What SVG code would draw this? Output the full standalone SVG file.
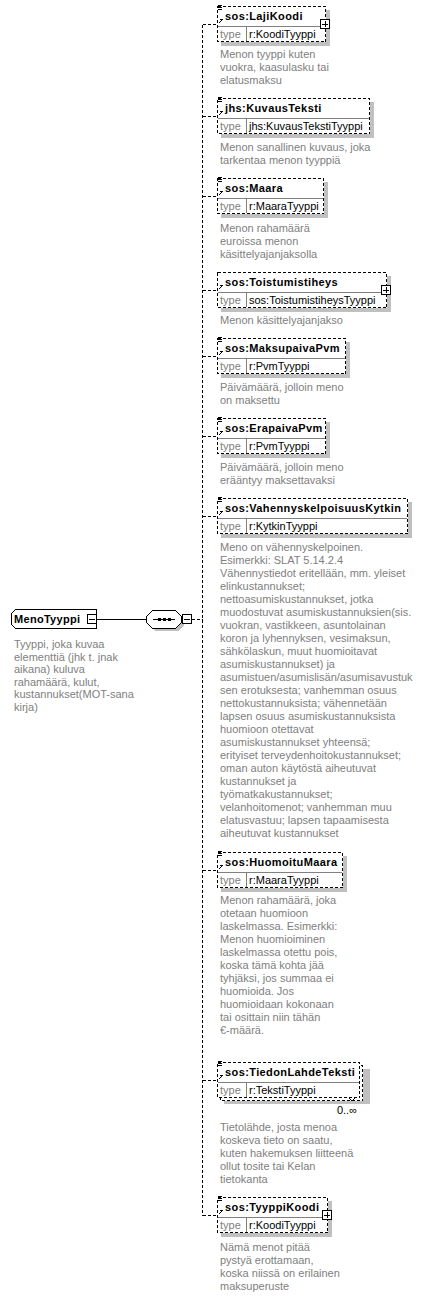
<svg xmlns="http://www.w3.org/2000/svg" width="421" height="1296" viewBox="0 0 421 1296">
<style>
text{font-family:"Liberation Sans",Arial,sans-serif;font-size:11px}
.nm{font-weight:bold;fill:#000;letter-spacing:0.4px}
.tl{fill:#808080}
.tv{fill:#000}
.ds{fill:#808080}
.box{fill:#fff;stroke:#000;stroke-width:1;stroke-dasharray:3,2}
.sh{fill:#c0c0c0}
.dv{stroke:#808080;stroke-width:1}
.pm{fill:#fff;stroke:#000;stroke-width:1}
.pl{stroke:#000;stroke-width:1}
.ic{stroke:#000;stroke-width:1;fill:none}
.con{stroke:#000;stroke-width:1;fill:none;stroke-dasharray:3,2}
.sol{stroke:#000;stroke-width:1;fill:none}
rect,line,polygon{shape-rendering:crispEdges}
</style>
<defs>
<g id="eq"><line class="ic" x1="218" y1="-0.5" x2="222" y2="-0.5"/><line class="ic" x1="218" y1="1.5" x2="222" y2="1.5"/><line class="ic" x1="218" y1="3.5" x2="222" y2="3.5"/></g>
<g id="ar"><line class="ic" x1="218.5" y1="17.5" x2="221" y2="15"/><polygon points="223,12.5 219.5,13.5 222,16" fill="#000"/></g>
</defs>
<g id="connectors">
<line class="sol" x1="97" y1="619.5" x2="146" y2="619.5"/>
<line class="con" x1="192" y1="619.5" x2="202.5" y2="619.5"/>
<line class="con" x1="202.5" y1="24.5" x2="202.5" y2="1215.5"/>
<line class="con" x1="202.5" y1="24.5" x2="217" y2="24.5"/>
<line class="con" x1="202.5" y1="116.5" x2="217" y2="116.5"/>
<line class="con" x1="202.5" y1="196.5" x2="217" y2="196.5"/>
<line class="con" x1="202.5" y1="290.5" x2="217" y2="290.5"/>
<line class="con" x1="202.5" y1="356.5" x2="217" y2="356.5"/>
<line class="con" x1="202.5" y1="436.5" x2="217" y2="436.5"/>
<line class="con" x1="202.5" y1="516.5" x2="217" y2="516.5"/>
<line class="con" x1="202.5" y1="870.5" x2="217" y2="870.5"/>
<line class="con" x1="202.5" y1="1080.5" x2="217" y2="1080.5"/>
<line class="con" x1="202.5" y1="1215.5" x2="217" y2="1215.5"/>
</g>
<g id="MenoTyyppi">
<polygon points="15.5,609.5 96.5,609.5 96.5,628.5 15.5,628.5 11.5,624.5 11.5,613.5" fill="#fff" stroke="#000" stroke-width="1"/>
<text class="nm" x="14" y="623" style="letter-spacing:0.3px">MenoTyyppi</text>
<rect class="pm" x="87.5" y="614.5" width="9" height="9"/>
<line class="pl" x1="89" y1="619" x2="95" y2="619"/>
<text class="ds" x="14" y="648">Tyyppi, joka kuvaa<tspan x="14" dy="12.5">elementtiä (jhk t. jnak</tspan><tspan x="14" dy="12.5">aikana) kuluva</tspan><tspan x="14" dy="12.5">rahamäärä, kulut,</tspan><tspan x="14" dy="12.5">kustannukset(MOT-sana</tspan><tspan x="14" dy="12.5">kirja)</tspan></text>
</g>
<g id="sequence">
<polygon points="155,613 178,613 184,619 184,625 178,631 155,631 149,625 149,619" class="sh"/>
<polygon points="152.5,610.5 175.5,610.5 181.5,616.5 181.5,622.5 175.5,628.5 152.5,628.5 146.5,622.5 146.5,616.5" fill="#fff" stroke="#000" stroke-width="1"/>
<line class="sol" x1="153" y1="619.5" x2="175" y2="619.5"/>
<rect x="158" y="618" width="3" height="3" fill="#000"/>
<rect x="163" y="618" width="3" height="3" fill="#000"/>
<rect x="168" y="618" width="3" height="3" fill="#000"/>
<rect class="pm" x="182.5" y="614.5" width="9" height="9"/>
<line class="pl" x1="184" y1="619" x2="190" y2="619"/>
</g>
<g id="LajiKoodi">
<rect class="sh" x="221" y="10" width="109" height="36"/>
<rect class="box" x="217.5" y="6.5" width="108" height="35"/>
<line class="dv" x1="218" y1="26.5" x2="325" y2="26.5"/>
<line class="dv" x1="246.5" y1="27" x2="246.5" y2="41"/>
<text class="nm" x="225" y="20">sos:LajiKoodi</text>
<text class="tl" x="220" y="37.5">type</text>
<text class="tv" x="249" y="37.5">r:KoodiTyyppi</text>
<use href="#eq" y="6"/><use href="#ar" y="6"/>
<rect class="pm" x="320.5" y="19.5" width="9" height="9"/>
<line class="pl" x1="322" y1="24" x2="328" y2="24"/><line class="pl" x1="325" y1="21" x2="325" y2="27"/>
<text class="ds" x="220" y="58">Menon tyyppi kuten<tspan x="220" dy="13">vuokra, kaasulasku tai</tspan><tspan x="220" dy="13">elatusmaksu</tspan></text>
</g>
<g id="KuvausTeksti">
<rect class="sh" x="221" y="102" width="153" height="36"/>
<rect class="box" x="217.5" y="98.5" width="152" height="35"/>
<line class="dv" x1="218" y1="118.5" x2="369" y2="118.5"/>
<line class="dv" x1="246.5" y1="119" x2="246.5" y2="133"/>
<text class="nm" x="225" y="112">jhs:KuvausTeksti</text>
<text class="tl" x="220" y="129.5">type</text>
<text class="tv" x="249" y="129.5">jhs:KuvausTekstiTyyppi</text>
<use href="#eq" y="98"/><use href="#ar" y="98"/>
<text class="ds" x="220" y="151">Menon sanallinen kuvaus, joka<tspan x="220" dy="13">tarkentaa menon tyyppiä</tspan></text>
</g>
<g id="Maara">
<rect class="sh" x="221" y="182" width="107" height="36"/>
<rect class="box" x="217.5" y="178.5" width="106" height="35"/>
<line class="dv" x1="218" y1="198.5" x2="323" y2="198.5"/>
<line class="dv" x1="246.5" y1="199" x2="246.5" y2="213"/>
<text class="nm" x="225" y="192">sos:Maara</text>
<text class="tl" x="220" y="209.5">type</text>
<text class="tv" x="249" y="209.5">r:MaaraTyyppi</text>
<use href="#eq" y="178"/><use href="#ar" y="178"/>
<text class="ds" x="220" y="232">Menon rahamäärä<tspan x="220" dy="13">euroissa menon</tspan><tspan x="220" dy="13">käsittelyajanjaksolla</tspan></text>
</g>
<g id="Toistumistiheys">
<rect class="sh" x="221" y="276" width="170" height="36"/>
<rect class="box" x="217.5" y="272.5" width="169" height="35"/>
<line class="dv" x1="218" y1="292.5" x2="386" y2="292.5"/>
<line class="dv" x1="246.5" y1="293" x2="246.5" y2="307"/>
<text class="nm" x="225" y="286">sos:Toistumistiheys</text>
<text class="tl" x="220" y="303.5">type</text>
<text class="tv" x="249" y="303.5">sos:ToistumistiheysTyyppi</text>
<use href="#ar" y="272"/>
<rect class="pm" x="381.5" y="285.5" width="9" height="9"/>
<line class="pl" x1="383" y1="290" x2="389" y2="290"/><line class="pl" x1="386" y1="287" x2="386" y2="293"/>
<text class="ds" x="220" y="324">Menon käsittelyajanjakso</text>
</g>
<g id="MaksupaivaPvm">
<rect class="sh" x="221" y="342" width="129" height="36"/>
<rect class="box" x="217.5" y="338.5" width="128" height="35"/>
<line class="dv" x1="218" y1="358.5" x2="345" y2="358.5"/>
<line class="dv" x1="246.5" y1="359" x2="246.5" y2="373"/>
<text class="nm" x="225" y="352">sos:MaksupaivaPvm</text>
<text class="tl" x="220" y="369.5">type</text>
<text class="tv" x="249" y="369.5">r:PvmTyyppi</text>
<use href="#eq" y="338"/><use href="#ar" y="338"/>
<text class="ds" x="220" y="391">Päivämäärä, jolloin meno<tspan x="220" dy="13">on maksettu</tspan></text>
</g>
<g id="ErapaivaPvm">
<rect class="sh" x="221" y="422" width="109" height="36"/>
<rect class="box" x="217.5" y="418.5" width="108" height="35"/>
<line class="dv" x1="218" y1="438.5" x2="325" y2="438.5"/>
<line class="dv" x1="246.5" y1="439" x2="246.5" y2="453"/>
<text class="nm" x="225" y="432">sos:ErapaivaPvm</text>
<text class="tl" x="220" y="449.5">type</text>
<text class="tv" x="249" y="449.5">r:PvmTyyppi</text>
<use href="#eq" y="418"/><use href="#ar" y="418"/>
<text class="ds" x="220" y="471">Päivämäärä, jolloin meno<tspan x="220" dy="13">erääntyy maksettavaksi</tspan></text>
</g>
<g id="VahennyskelpoisuusKytkin">
<rect class="sh" x="221" y="502" width="191" height="36"/>
<rect class="box" x="217.5" y="498.5" width="190" height="35"/>
<line class="dv" x1="218" y1="518.5" x2="407" y2="518.5"/>
<line class="dv" x1="246.5" y1="519" x2="246.5" y2="533"/>
<text class="nm" x="225" y="512">sos:VahennyskelpoisuusKytkin</text>
<text class="tl" x="220" y="529.5">type</text>
<text class="tv" x="249" y="529.5">r:KytkinTyyppi</text>
<use href="#eq" y="498"/><use href="#ar" y="498"/>
<text class="ds" x="220" y="551">Meno on vähennyskelpoinen.<tspan x="220" dy="13">Esimerkki: SLAT 5.14.2.4</tspan><tspan x="220" dy="13">Vähennystiedot eritellään, mm. yleiset</tspan><tspan x="220" dy="13">elinkustannukset;</tspan><tspan x="220" dy="13">nettoasumiskustannukset, jotka</tspan><tspan x="220" dy="13">muodostuvat asumiskustannuksien(sis.</tspan><tspan x="220" dy="13">vuokran, vastikkeen, asuntolainan</tspan><tspan x="220" dy="13">koron ja lyhennyksen, vesimaksun,</tspan><tspan x="220" dy="13">sähkölaskun, muut huomioitavat</tspan><tspan x="220" dy="13">asumiskustannukset) ja</tspan><tspan x="220" dy="13">asumistuen/asumislisän/asumisavustuk</tspan><tspan x="220" dy="13">sen erotuksesta; vanhemman osuus</tspan><tspan x="220" dy="13">nettokustannuksista; vähennetään</tspan><tspan x="220" dy="13">lapsen osuus asumiskustannuksista</tspan><tspan x="220" dy="13">huomioon otettavat</tspan><tspan x="220" dy="13">asumiskustannukset yhteensä;</tspan><tspan x="220" dy="13">erityiset terveydenhoitokustannukset;</tspan><tspan x="220" dy="13">oman auton käytöstä aiheutuvat</tspan><tspan x="220" dy="13">kustannukset ja</tspan><tspan x="220" dy="13">työmatkakustannukset;</tspan><tspan x="220" dy="13">velanhoitomenot; vanhemman muu</tspan><tspan x="220" dy="13">elatusvastuu; lapsen tapaamisesta</tspan><tspan x="220" dy="13">aiheutuvat kustannukset</tspan></text>
</g>
<g id="HuomoituMaara">
<rect class="sh" x="221" y="856" width="126" height="36"/>
<rect class="box" x="217.5" y="852.5" width="125" height="35"/>
<line class="dv" x1="218" y1="872.5" x2="342" y2="872.5"/>
<line class="dv" x1="246.5" y1="873" x2="246.5" y2="887"/>
<text class="nm" x="225" y="866">sos:HuomoituMaara</text>
<text class="tl" x="220" y="883.5">type</text>
<text class="tv" x="249" y="883.5">r:MaaraTyyppi</text>
<use href="#eq" y="852"/><use href="#ar" y="852"/>
<text class="ds" x="220" y="904">Menon rahamäärä, joka<tspan x="220" dy="13">otetaan huomioon</tspan><tspan x="220" dy="13">laskelmassa. Esimerkki:</tspan><tspan x="220" dy="13">Menon huomioiminen</tspan><tspan x="220" dy="13">laskelmassa otettu pois,</tspan><tspan x="220" dy="13">koska tämä kohta jää</tspan><tspan x="220" dy="13">tyhjäksi, jos summaa ei</tspan><tspan x="220" dy="13">huomioida. Jos</tspan><tspan x="220" dy="13">huomioidaan kokonaan</tspan><tspan x="220" dy="13">tai osittain niin tähän</tspan><tspan x="220" dy="13">€-määrä.</tspan></text>
</g>
<g id="TiedonLahdeTeksti">
<rect class="sh" x="224" y="1069" width="146" height="35"/>
<rect class="box" x="220.5" y="1065.5" width="142" height="35"/>
<rect class="box" x="217.5" y="1062.5" width="142" height="35"/>
<line class="dv" x1="218" y1="1082.5" x2="359" y2="1082.5"/>
<line class="dv" x1="246.5" y1="1083" x2="246.5" y2="1097"/>
<text class="nm" x="225" y="1076">sos:TiedonLahdeTeksti</text>
<text class="tl" x="220" y="1093.5">type</text>
<text class="tv" x="249" y="1093.5">r:TekstiTyyppi</text>
<use href="#eq" y="1062"/><use href="#ar" y="1062"/>
<polyline class="ic" points="349,1098 352,1101 355,1098"/>
<text class="tv" x="357" y="1114" text-anchor="end">0..∞</text>
<text class="ds" x="220" y="1131">Tietolähde, josta menoa<tspan x="220" dy="13">koskeva tieto on saatu,</tspan><tspan x="220" dy="13">kuten hakemuksen liitteenä</tspan><tspan x="220" dy="13">ollut tosite tai Kelan</tspan><tspan x="220" dy="13">tietokanta</tspan></text>
</g>
<g id="TyyppiKoodi">
<rect class="sh" x="221" y="1201" width="111" height="36"/>
<rect class="box" x="217.5" y="1197.5" width="110" height="35"/>
<line class="dv" x1="218" y1="1217.5" x2="327" y2="1217.5"/>
<line class="dv" x1="246.5" y1="1218" x2="246.5" y2="1232"/>
<text class="nm" x="225" y="1211">sos:TyyppiKoodi</text>
<text class="tl" x="220" y="1228.5">type</text>
<text class="tv" x="249" y="1228.5">r:KoodiTyyppi</text>
<use href="#eq" y="1197"/><use href="#ar" y="1197"/>
<rect class="pm" x="322.5" y="1210.5" width="9" height="9"/>
<line class="pl" x1="324" y1="1215" x2="330" y2="1215"/><line class="pl" x1="327" y1="1212" x2="327" y2="1218"/>
<text class="ds" x="220" y="1251">Nämä menot pitää<tspan x="220" dy="13">pystyä erottamaan,</tspan><tspan x="220" dy="13">koska niissä on erilainen</tspan><tspan x="220" dy="13">maksuperuste</tspan></text>
</g>
</svg>
